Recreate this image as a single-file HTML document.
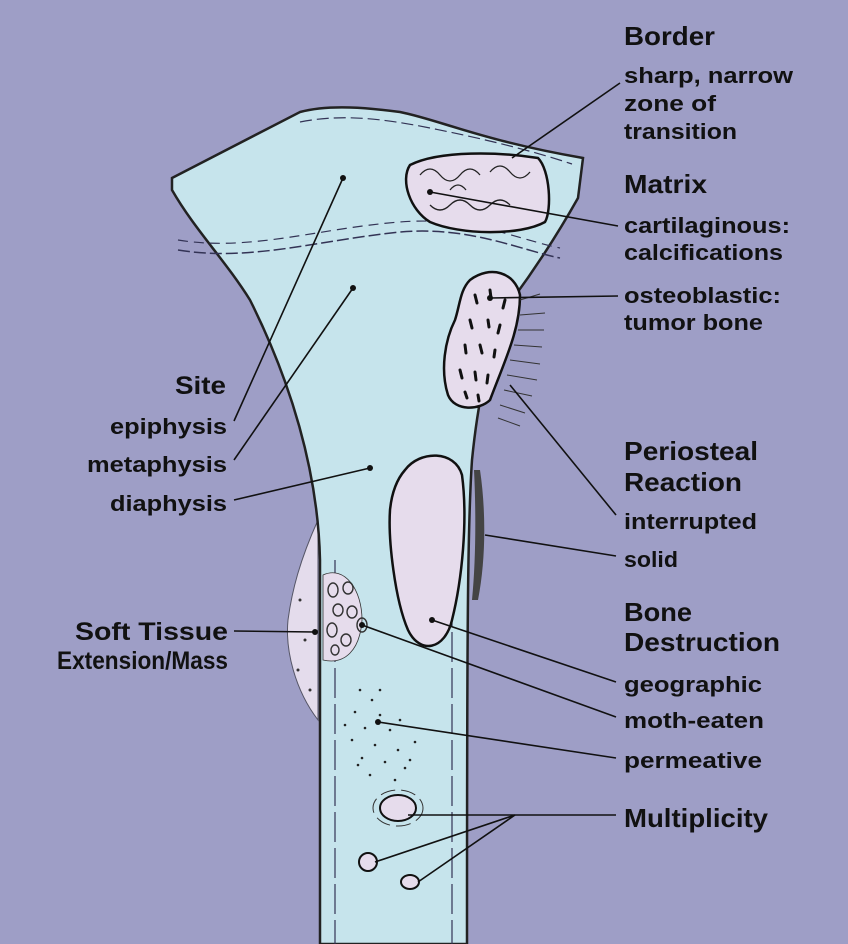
<!DOCTYPE html>
<html><head><style>
html,body{margin:0;padding:0;background:#9e9ec6;}
svg{display:block}
text{font-family:"Liberation Sans",sans-serif;font-weight:bold;fill:#111;}
</style></head><body>
<svg width="848" height="944" viewBox="0 0 848 944" xmlns="http://www.w3.org/2000/svg">
<rect width="848" height="944" fill="#9e9ec6"/>
<path d="M318,520 C300,560 292,590 288,620 C285,650 295,690 318,720 Z" fill="#e4dcec" stroke="#556" stroke-width="1"/>
<path d="M172,178 L300,112 C330,104 370,108 400,112 C440,120 480,140 583,158 L578,198 C560,230 540,262 512,300 C490,340 478,400 472,460 C468,520 467,600 467,944 L320,944 L320,560 C318,470 290,380 250,300 C225,260 195,230 172,190 Z" fill="#c6e4ec" stroke="#222" stroke-width="2.5"/>
<path d="M178,250 C250,262 320,240 400,232 C470,226 520,250 560,258" fill="none" stroke="#335" stroke-width="1.5" stroke-dasharray="12,4"/>
<path d="M178,240 C250,252 320,228 400,222 C470,216 520,240 560,248" fill="none" stroke="#335" stroke-width="1.2" stroke-dasharray="10,6"/>
<path d="M300,122 C340,114 380,118 430,128 C480,138 530,150 572,164" fill="none" stroke="#335" stroke-width="1.2" stroke-dasharray="12,5"/>
<path d="M335,560 L335,944 M452,560 L452,944" stroke="#335" stroke-width="1.2" stroke-dasharray="30,6" fill="none"/>
<path d="M410,165 C440,150 500,152 538,158 C550,170 552,210 545,222 C520,236 460,235 430,222 C410,210 400,180 410,165 Z" fill="#e6dcec" stroke="#111" stroke-width="2.5"/>
<path d="M420,175 q10,-12 20,0 t20,0 t20,0 M490,172 q10,-12 20,0 t20,0 M430,205 q10,10 20,0 t20,0 t20,0 t20,0 M450,190 q8,-10 16,0" fill="none" stroke="#222" stroke-width="1.3"/>
<path d="M470,280 C490,265 515,272 520,295 C520,330 505,360 490,400 C480,410 455,412 448,395 C440,370 445,340 455,320 C460,305 460,290 470,280 Z" fill="#e6dcec" stroke="#111" stroke-width="2.5"/>
<g stroke="#111" stroke-width="3" stroke-linecap="round">
<path d="M475,295 l2,8 M490,290 l1,8 M505,300 l-2,8 M470,320 l2,8 M488,320 l1,7 M500,325 l-2,8 M465,345 l1,8 M480,345 l2,8 M495,350 l-1,7 M460,370 l2,8 M475,372 l1,8 M488,375 l-1,8 M465,392 l2,6 M478,395 l1,6"/>
</g>
<g stroke="#333" stroke-width="1">
<path d="M520,300 l20,-6 M520,315 l25,-2 M518,330 l26,0 M514,345 l28,2 M510,360 l30,4 M507,375 l30,5 M504,390 l28,6 M500,405 l25,8 M498,418 l22,8"/>
</g>
<path d="M405,470 C420,450 455,450 462,475 C468,520 462,580 452,620 C445,650 420,655 408,630 C395,600 388,540 390,510 C392,490 398,478 405,470 Z" fill="#e6dcec" stroke="#111" stroke-width="2.5"/>
<path d="M480,470 C486,510 486,560 478,600 L472,600 C476,560 476,510 474,470 Z" fill="#444"/>
<path d="M323,575 C345,565 362,590 362,620 C360,650 345,665 323,660 Z" fill="#e6dcec" stroke="#333" stroke-width="0.8"/>
<g fill="none" stroke="#333" stroke-width="1.4">
<ellipse cx="333" cy="590" rx="5" ry="7"/><ellipse cx="348" cy="588" rx="5" ry="6"/><ellipse cx="338" cy="610" rx="5" ry="6"/><ellipse cx="352" cy="612" rx="5" ry="6"/><ellipse cx="332" cy="630" rx="5" ry="7"/><ellipse cx="346" cy="640" rx="5" ry="6"/><ellipse cx="362" cy="625" rx="5" ry="7"/><ellipse cx="335" cy="650" rx="4" ry="5"/>
</g>
<g fill="#333">
<circle cx="300" cy="600" r="1.5"/><circle cx="305" cy="640" r="1.5"/><circle cx="298" cy="670" r="1.5"/><circle cx="310" cy="690" r="1.5"/>
</g>
<g fill="#222">
<circle cx="360" cy="690" r="1.3"/><circle cx="372" cy="700" r="1.3"/><circle cx="355" cy="712" r="1.3"/><circle cx="380" cy="715" r="1.3"/><circle cx="365" cy="728" r="1.3"/><circle cx="390" cy="730" r="1.3"/><circle cx="352" cy="740" r="1.3"/><circle cx="375" cy="745" r="1.3"/><circle cx="398" cy="750" r="1.3"/><circle cx="362" cy="758" r="1.3"/><circle cx="385" cy="762" r="1.3"/><circle cx="405" cy="768" r="1.3"/><circle cx="370" cy="775" r="1.3"/><circle cx="395" cy="780" r="1.3"/><circle cx="415" cy="742" r="1.3"/><circle cx="345" cy="725" r="1.3"/><circle cx="400" cy="720" r="1.3"/><circle cx="410" cy="760" r="1.3"/><circle cx="358" cy="765" r="1.3"/><circle cx="380" cy="690" r="1.3"/>
</g>
<ellipse cx="398" cy="808" rx="18" ry="13" fill="#e6dcec" stroke="#111" stroke-width="2"/>
<ellipse cx="398" cy="808" rx="25" ry="18" fill="none" stroke="#333" stroke-width="1" stroke-dasharray="15,6"/>
<ellipse cx="368" cy="862" rx="9" ry="9" fill="#e6dcec" stroke="#111" stroke-width="2"/>
<ellipse cx="410" cy="882" rx="9" ry="7" fill="#e6dcec" stroke="#111" stroke-width="2"/>
<g stroke="#111" stroke-width="1.6" fill="none">
<path d="M620,83 L512,158"/>
<path d="M618,226 L430,192"/>
<path d="M618,296 L490,298"/>
<path d="M616,515 L510,385"/>
<path d="M616,556 L485,535"/>
<path d="M616,682 L432,620"/>
<path d="M616,717 L362,625"/>
<path d="M616,758 L378,722"/>
<path d="M616,815 L408,815"/>
<path d="M515,815 L375,862 M515,815 L418,882"/>
<path d="M234,421 L343,178"/>
<path d="M234,460 L353,288"/>
<path d="M234,500 L370,468"/>
<path d="M234,631 L315,632"/>
</g>
<g fill="#111"><circle cx="343" cy="178" r="3"/><circle cx="353" cy="288" r="3"/><circle cx="370" cy="468" r="3"/><circle cx="432" cy="620" r="3"/><circle cx="362" cy="625" r="3"/><circle cx="378" cy="722" r="3"/><circle cx="430" cy="192" r="3"/><circle cx="490" cy="298" r="3"/><circle cx="315" cy="632" r="3"/></g>
<g font-size="26">
<text x="624" y="45" textLength="91" lengthAdjust="spacingAndGlyphs">Border</text>
<text x="624" y="193" textLength="83" lengthAdjust="spacingAndGlyphs">Matrix</text>
<text x="624" y="460" textLength="134" lengthAdjust="spacingAndGlyphs">Periosteal</text>
<text x="624" y="491" textLength="118" lengthAdjust="spacingAndGlyphs">Reaction</text>
<text x="624" y="621" textLength="68" lengthAdjust="spacingAndGlyphs">Bone</text>
<text x="624" y="651" textLength="156" lengthAdjust="spacingAndGlyphs">Destruction</text>
<text x="624" y="827" textLength="144" lengthAdjust="spacingAndGlyphs">Multiplicity</text>
</g>
<g font-size="22">
<text x="624" y="83" textLength="169" lengthAdjust="spacingAndGlyphs">sharp, narrow</text>
<text x="624" y="111" textLength="92" lengthAdjust="spacingAndGlyphs">zone of</text>
<text x="624" y="139" textLength="113" lengthAdjust="spacingAndGlyphs">transition</text>
<text x="624" y="233" textLength="166" lengthAdjust="spacingAndGlyphs">cartilaginous:</text>
<text x="624" y="260" textLength="159" lengthAdjust="spacingAndGlyphs">calcifications</text>
<text x="624" y="303" textLength="157" lengthAdjust="spacingAndGlyphs">osteoblastic:</text>
<text x="624" y="330" textLength="139" lengthAdjust="spacingAndGlyphs">tumor bone</text>
<text x="624" y="529" textLength="133" lengthAdjust="spacingAndGlyphs">interrupted</text>
<text x="624" y="567" textLength="54" lengthAdjust="spacingAndGlyphs">solid</text>
<text x="624" y="692" textLength="138" lengthAdjust="spacingAndGlyphs">geographic</text>
<text x="624" y="728" textLength="140" lengthAdjust="spacingAndGlyphs">moth-eaten</text>
<text x="624" y="768" textLength="138" lengthAdjust="spacingAndGlyphs">permeative</text>
</g>
<g font-size="25">
<text x="175" y="394" textLength="51" lengthAdjust="spacingAndGlyphs">Site</text>
<text x="75" y="640" textLength="153" lengthAdjust="spacingAndGlyphs">Soft Tissue</text>
<text x="57" y="669" textLength="171" lengthAdjust="spacingAndGlyphs">Extension/Mass</text>
</g>
<g font-size="22">
<text x="110" y="434" textLength="117" lengthAdjust="spacingAndGlyphs">epiphysis</text>
<text x="87" y="472" textLength="140" lengthAdjust="spacingAndGlyphs">metaphysis</text>
<text x="110" y="511" textLength="117" lengthAdjust="spacingAndGlyphs">diaphysis</text>
</g>
</svg>
</body></html>
